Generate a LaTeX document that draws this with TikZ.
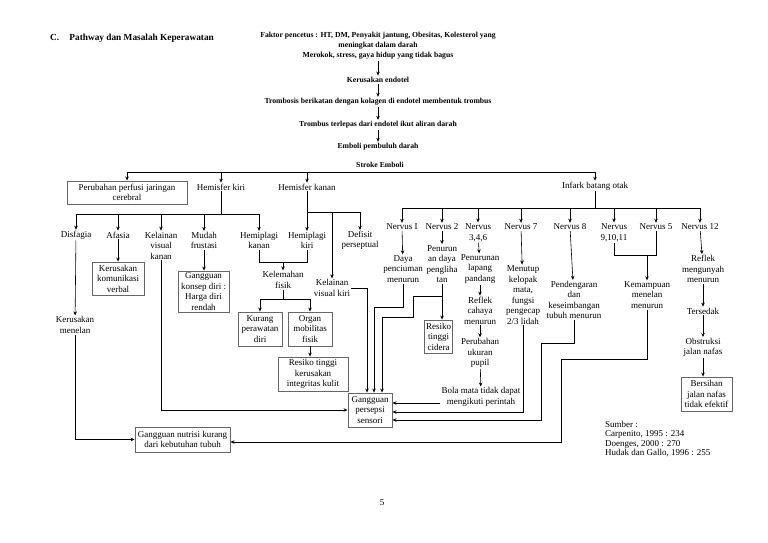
\documentclass[tikz,border=0pt]{standalone}
\usepackage{fontspec}
\setmainfont{Liberation Serif}
\usetikzlibrary{arrows.meta, calc}

\begin{document}
\begin{tikzpicture}[
    x=1pt, y=-1pt,
    lbl/.style={align=center, inner sep=1pt, font=\fontsize{9}{10.5}\selectfont},
    cause/.style={align=center, inner sep=1.5pt, font=\fontsize{7.7}{10}\selectfont\bfseries},
    box/.style={lbl, draw=black!60, line width=0.9pt, inner sep=1.2pt},
    arrow/.style={-{Stealth[length=4pt, width=3.5pt]}, line width=0.6pt},
    wire/.style={line width=0.6pt}
]
\useasboundingbox (0,0) rectangle (768,543);

% heading and causes
\node[anchor=west, inner sep=0pt, font=\fontsize{9.3}{11}\selectfont\bfseries] (title) at (50,38) {C.\hspace{1.1em}Pathway dan Masalah Keperawatan};
\node[cause] (faktor) at (378,46) {Faktor pencetus : HT, DM, Penyakit jantung, Obesitas, Kolesterol yang\\ meningkat dalam darah\\ Merokok, stress, gaya hidup yang tidak bagus};
\node[cause] (endotel) at (378,80) {Kerusakan endotel};
\node[cause] (trombosis) at (378,102) {Trombosis berikatan dengan kolagen di endotel membentuk trombus};
\node[cause] (trombus) at (378,125) {Trombus terlepas dari endotel ikut aliran darah};
\node[cause] (emboli) at (378,147) {Emboli pembuluh darah};
\node[cause] (stroke) at (380,165) {Stroke Emboli};

\draw[arrow] (faktor) -- (endotel);
\draw[arrow] (endotel) -- (trombosis);
\draw[arrow] (trombosis) -- (trombus);
\draw[arrow] (trombus) -- (emboli);

% first split
\coordinate (sbus) at (380,172);
\node[box, minimum width=120pt, minimum height=23pt] (perfusi) at (127,192.5) {Perubahan perfusi jaringan\\ cerebral};
\node[lbl] (hkiri) at (221,187) {Hemisfer kiri};
\node[lbl] (hkanan) at (307,187) {Hemisfer kanan};
\node[lbl] (infark) at (595,186) {Infark batang otak};

\draw[wire] (perfusi |- sbus) -- (infark |- sbus);
\foreach \n in {perfusi, hkiri, hkanan, infark}
  \draw[arrow] (\n |- sbus) -- (\n);

% hemisfer kiri
\coordinate (kbus) at (221,214);
\node[lbl] (disfagia) at (76,235) {Disfagia};
\node[lbl] (afasia) at (118,235) {Afasia};
\node[lbl] (kvkanan) at (161,245.5) {Kelainan\\ visual\\ kanan};
\node[lbl] (frustasi) at (204,240.5) {Mudah\\ frustasi};
\node[lbl] (hpkanan) at (259,240.5) {Hemiplagi\\ kanan};

\draw[wire] (hkiri) -- (kbus);
\draw[wire] (disfagia |- kbus) -- (hpkanan |- kbus);
\foreach \n in {disfagia, afasia, kvkanan, frustasi, hpkanan}
  \draw[arrow] (\n |- kbus) -- (\n);

% hemisfer kanan
\coordinate (rbus) at (307,212);
\node[lbl] (hpkiri) at (307,240.5) {Hemiplagi\\ kiri};
\node[lbl] (defisit) at (360,240.5) {Defisit\\ perseptual};
\node[lbl] (kvkiri) at (332,288) {Kelainan\\ visual kiri};

\draw[wire] (hkanan) -- (rbus) -- (defisit |- rbus);
\foreach \n in {hpkiri, defisit, kvkiri}
  \draw[arrow] (\n |- rbus) -- (\n);

% problems on the left
\node[box, minimum width=52pt, minimum height=33pt] (komunikasi) at (118,278.5) {Kerusakan\\ komunikasi\\ verbal};
\node[box, minimum width=51pt, minimum height=41pt] (konsep) at (203.5,291.5) {Gangguan\\ konsep diri :\\ Harga diri\\ rendah};
\node[lbl] (menelan) at (75,325) {Kerusakan\\ menelan};
\node[lbl] (kelemahan) at (283,280) {Kelemahan\\ fisik};
\node[box, minimum width=44pt, minimum height=34pt] (kurang) at (260,329) {Kurang\\ perawatan\\ diri};
\node[box, minimum width=44pt, minimum height=34pt] (organ) at (310,329) {Organ\\ mobilitas\\ fisik};
\node[box, minimum width=70pt, minimum height=34pt] (integritas) at (313,374) {Resiko tinggi\\ kerusakan\\ integritas kulit};
\node[box, minimum width=44pt, minimum height=34pt] (persepsi) at (370,410) {Gangguan\\ persepsi\\ sensori};
\node[box, minimum width=95pt, minimum height=25pt] (nutrisi) at (182.5,439.5) {Gangguan nutrisi kurang\\ dari kebutuhan tubuh};

\draw[arrow] (afasia) -- (komunikasi);
\draw[arrow] (frustasi) -- (frustasi |- konsep.north);
\draw[arrow] (disfagia) -- (menelan);
\draw[arrow] (menelan) |- (nutrisi);
\draw[arrow] (kvkanan) |- (persepsi);

\coordinate (hpbus) at (283,262);
\draw[wire] (hpkanan) |- (hpkiri |- hpbus) -- (hpkiri);
\draw[arrow] (hpbus) -- (kelemahan);
\coordinate (lembus) at (283,299);
\draw[wire] (kelemahan) -- (lembus);
\draw[wire] (kurang |- lembus) -- (organ |- lembus);
\draw[arrow] (kurang |- lembus) -- (kurang);
\draw[arrow] (organ |- lembus) -- (organ);
\draw[arrow] (organ) -- (organ |- integritas.north);

\draw[arrow] (kvkiri.east) -| ([xshift=-3pt]persepsi.north);

% infark batang otak
\coordinate (nbus) at (595,208);
\node[lbl] (n1) at (402,227) {Nervus I};
\node[lbl] (n2) at (442,227) {Nervus 2};
\node[lbl] (n346) at (478,232.5) {Nervus\\ 3,4,6};
\node[lbl] (n7) at (521,227) {Nervus 7};
\node[lbl] (n8) at (570,227) {Nervus 8};
\node[lbl] (n91011) at (614,232.5) {Nervus\\ 9,10,11};
\node[lbl] (n5) at (656,227) {Nervus 5};
\node[lbl] (n12) at (700,227) {Nervus 12};

\draw[wire] (infark) -- (nbus);
\draw[wire] (n1 |- nbus) -- (n12 |- nbus);
\foreach \n in {n1, n2, n346, n7, n8, n91011, n5, n12}
  \draw[arrow] (\n |- nbus) -- (\n);

\node[lbl] (penciuman) at (403,269) {Daya\\ penciuman\\ menurun};
\node[lbl] (penglihatan) at (442,264) {Penurun\\ an daya\\ pengliha\\ tan};
\node[box, minimum width=27pt, minimum height=33pt] (cidera) at (438.5,336.5) {Resiko\\ tinggi\\ cidera};
\node[lbl] (lapang) at (480,269) {Penurunan\\ lapang\\ pandang};
\node[lbl] (cahaya) at (480,310.5) {Reflek\\ cahaya\\ menurun};
\node[lbl] (pupil) at (480,353) {Perubahan\\ ukuran\\ pupil};
\node[lbl] (bolamata) at (481,397) {Bola mata tidak dapat\\ mengikuti perintah};
\node[lbl] (kelopak) at (523,295) {Menutup\\ kelopak\\ mata,\\ fungsi\\ pengecap\\ 2/3 lidah};
\node[lbl] (pendengaran) at (574,300) {Pendengaran\\ dan\\ keseimbangan\\ tubuh menurun};
\node[lbl] (kemampuan) at (647,295) {Kemampuan\\ menelan\\ menurun};
\node[lbl] (mengunyah) at (703,269) {Reflek\\ mengunyah\\ menurun};
\node[lbl] (tersedak) at (703,311) {Tersedak};
\node[lbl] (obstruksi) at (703,347.5) {Obstruksi\\ jalan nafas};
\node[box, minimum width=51pt, minimum height=34pt] (bersihan) at (706.5,394) {Bersihan\\ jalan nafas\\ tidak efektif};

\draw[arrow] (n1) -- (penciuman);
\draw[arrow] (n2) -- (penglihatan);
\draw[arrow] (penglihatan) -- (penglihatan |- cidera.north);
\draw[arrow] (n346) -- (lapang);
\draw[arrow] (lapang) -- (cahaya);
\draw[arrow] (cahaya) -- (pupil);
\draw[arrow] (pupil) -- (bolamata);
\draw[arrow] (n7) -- (kelopak);
\draw[arrow] (n8) -- (pendengaran);
\draw[arrow] (n12) -- (mengunyah);
\draw[arrow] (mengunyah) -- (tersedak);
\draw[arrow] (tersedak) -- (obstruksi);
\draw[arrow] (obstruksi) -- (obstruksi |- bersihan.north);

\coordinate (n9bus) at (647,255);
\draw[wire] (n91011) |- (n5 |- n9bus) -- (n5);
\draw[arrow] (n9bus) -- (kemampuan);

% into gangguan persepsi sensori
\draw[arrow] (penciuman.south) |- ++(-29,24) -| ([xshift=4pt]persepsi.north);
\draw[arrow] (penglihatan.south) |- ++(-29,12) |- ++(-31,21) -| ([xshift=12pt]persepsi.north);
\coordinate (bm) at ([yshift=-6pt]bolamata.west);
\draw[arrow] (bm) -- (bm -| persepsi.east);
\draw[arrow] (kelopak) |- ([yshift=-2pt]persepsi.east);
\draw[arrow] (pendengaran.south) |- ++(-33,23) |- ([yshift=-10pt]persepsi.east);
\draw[arrow] (kemampuan.south) |- ++(-86,50) |- ([yshift=-2.5pt]nutrisi.east);

% sources and page
\node[anchor=west, align=left, inner sep=0pt, font=\fontsize{9}{9.5}\selectfont] (sumber) at (605,439) {Sumber :\\ Carpenito, 1995 : 234\\ Doenges, 2000 : 270\\ Hudak dan Gallo, 1996 : 255};
\node[lbl] (page) at (382,503) {5};
\end{tikzpicture}
\end{document}
